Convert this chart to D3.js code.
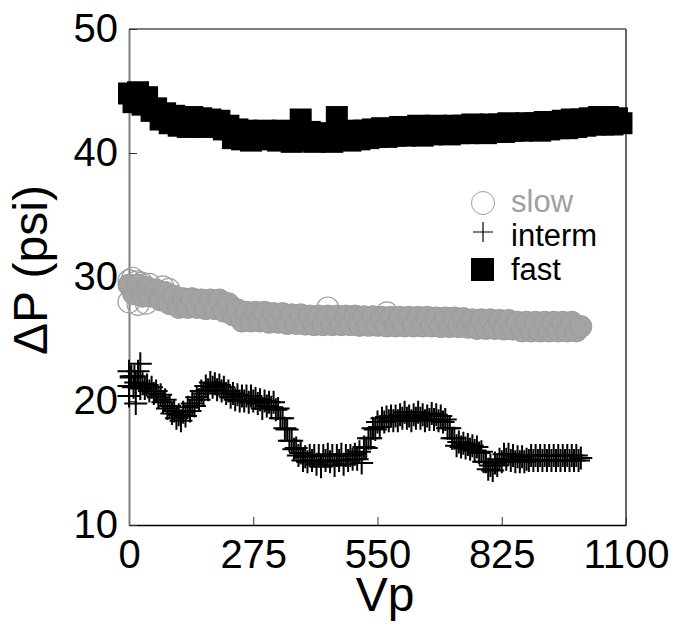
<!DOCTYPE html>
<html>
<head>
<meta charset="utf-8">
<script src="https://cdn.jsdelivr.net/npm/d3@7"></script>
<style>
  body { margin: 0; background: #fff; }
  text { font-family: "Liberation Sans", Arial, sans-serif; }
</style>
</head>
<body>
<div id="chart"></div>
<script>
// tick labels
var xTicks = [0, 275, 550, 825, 1100];
var yTicks = [10, 20, 30, 40, 50];

// fast: Vp = 0, 10, ... 1090
var fastVp = d3.range(0, 1100, 10);
var fastDP = [44.8, 44.1, 44.9, 43.9, 44.5, 43.4, 43.6, 42.7, 43.2, 42.4,
  43.0, 42.2, 42.8, 42.1, 42.9, 42.2, 42.8, 42.1, 42.7, 42.3,
  42.6, 41.9, 42.2, 41.2, 41.9, 41.1, 41.8, 41.0, 41.7, 41.2,
  41.8, 41.1, 41.7, 41.0, 41.8, 41.2, 40.9, 41.6, 42.7, 41.0,
  41.7, 40.9, 41.6, 41.0, 41.5, 40.9, 42.9, 41.3, 41.7, 41.0,
  41.8, 41.1, 41.8, 41.2, 41.9, 41.3, 42.0, 41.3, 41.9, 41.4,
  42.1, 41.4, 42.0, 41.5, 42.2, 41.4, 42.1, 41.5, 42.2, 41.6,
  42.1, 41.5, 42.2, 41.6, 42.2, 41.6, 42.3, 41.7, 42.2, 41.6,
  42.3, 41.7, 42.3, 41.7, 42.4, 41.8, 42.3, 41.8, 42.4, 41.9,
  42.4, 41.8, 42.5, 41.9, 42.5, 42.0, 42.6, 42.0, 42.7, 42.1,
  42.7, 42.2, 42.8, 42.3, 42.9, 42.3, 42.9, 42.3, 42.8, 42.4];

// slow: Vp = 0, 10, ... 1000
var slowVp = d3.range(0, 1010, 10);
var slowDP = [29.35, 28.65, 29.35, 28.45, 29.15, 28.45, 28.95, 28.15, 28.75, 27.85,
  28.45, 27.55, 28.25, 27.55, 28.25, 27.55, 28.15, 27.45, 28.15, 27.45,
  28.15, 27.25, 27.85, 26.95, 27.35, 26.45, 27.15, 26.45, 27.15, 26.45,
  27.15, 26.35, 27.05, 26.35, 27.05, 26.25, 26.95, 26.25, 26.95, 26.2,
  26.85, 26.15, 26.85, 26.15, 26.85, 26.15, 26.85, 26.15, 26.85, 26.15,
  26.85, 26.1, 26.8, 26.1, 26.8, 26.1, 26.75, 26.05, 26.75, 26.05,
  26.75, 26.05, 26.75, 26.05, 26.75, 26.05, 26.75, 26.05, 26.7, 26.0,
  26.7, 26.0, 26.7, 26.0, 26.65, 25.95, 26.55, 25.85, 26.55, 25.85,
  26.55, 25.85, 26.5, 25.8, 26.5, 25.8, 26.35, 25.65, 26.35, 25.65,
  26.35, 25.65, 26.35, 25.65, 26.35, 25.65, 26.35, 25.65, 26.35, 25.65,
  26.0];
// stray slow points lying outside the band
var slowStrayVp = [0, 8, 18, 28, 45, 75, 88, 0, 20, 38, 440, 571];
var slowStrayDP = [29.7, 29.9, 29.6, 29.5, 29.4, 29.2, 29.0, 28.0, 27.8, 27.9, 27.5, 27.1];

// interm: Vp = 0, 5, ... 1000
var intermVp = d3.range(0, 1005, 5);
var intermDP = [21.2, 22.0, 21.1, 21.5, 22.4, 21.0, 21.4, 21.0, 21.3, 20.8,
  21.1, 20.6, 20.8, 20.3, 20.5, 19.9, 20.1, 19.4, 19.6, 19.0,
  19.2, 18.6, 18.9, 18.4, 19.1, 18.8, 19.5, 19.2, 19.8, 19.6,
  20.3, 20.1, 20.8, 20.6, 21.2, 20.9, 21.5, 21.1, 21.4, 20.9,
  21.3, 20.8, 21.1, 20.6, 20.8, 20.3, 20.6, 20.1, 20.5, 20.0,
  20.4, 20.0, 20.4, 19.9, 20.4, 20.0, 20.2, 19.8, 20.1, 19.4,
  20.0, 19.6, 19.9, 19.5, 19.9, 19.3, 19.4, 18.6, 18.6, 17.8,
  17.7, 16.8, 16.8, 16.1, 16.2, 15.6, 15.8, 15.2, 15.5, 15.1,
  15.6, 15.2, 15.6, 14.9, 15.6, 14.7, 15.6, 15.2, 15.7, 15.1,
  15.6, 14.8, 15.6, 15.2, 15.7, 14.9, 15.6, 15.2, 15.6, 15.3,
  15.7, 15.3, 15.9, 15.0, 16.3, 16.2, 17.0, 17.0, 17.8, 17.7,
  18.3, 17.9, 18.6, 18.3, 18.7, 18.4, 18.8, 18.4, 18.8, 18.4,
  18.9, 18.6, 19.1, 18.6, 18.8, 18.4, 18.9, 18.6, 19.1, 18.6,
  18.9, 18.4, 18.8, 18.5, 19.0, 18.5, 18.9, 18.4, 18.8, 18.3,
  18.5, 17.8, 17.8, 17.0, 17.0, 16.4, 16.7, 16.3, 16.6, 16.2,
  16.5, 16.1, 16.4, 16.0, 16.3, 15.8, 15.9, 15.1, 15.1, 14.5,
  14.8, 14.4, 15.0, 14.8, 15.3, 15.1, 15.7, 15.3, 15.7, 15.2,
  15.6, 15.1, 15.5, 15.1, 15.5, 15.1, 15.3, 15.2, 15.6, 15.2,
  15.6, 15.2, 15.6, 15.2, 15.6, 15.2, 15.6, 15.2, 15.6, 15.2,
  15.6, 15.2, 15.6, 15.2, 15.6, 15.2, 15.6, 15.2, 15.6, 15.2,
  15.4];
var intermStrayVp = [0, 5, 0, 12, 15, 25];
var intermStrayDP = [22.4, 21.9, 20.4, 22.0, 19.8, 23.0];

var legendNames = ["slow", "interm", "fast"];

var W = 674, H = 631;
var margin = {top: 29, right: 48, bottom: 106, left: 129},
    width = W - margin.left - margin.right,
    height = H - margin.top - margin.bottom;

var svg = d3.select("#chart")
  .append("svg")
    .attr("width", W)
    .attr("height", H)
  .append("g")
    .attr("transform", "translate(" + margin.left + "," + margin.top + ")");

var x = d3.scaleLinear().domain([0, 1100]).range([0, width]);
var y = d3.scaleLinear().domain([10, 50]).range([height, 0]);

// frame
svg.append("line").attr("x1", 0).attr("x2", width).attr("y1", 0).attr("y2", 0)
  .attr("stroke", "#000").attr("stroke-width", 1);
svg.append("line").attr("x1", width).attr("x2", width).attr("y1", 0).attr("y2", height)
  .attr("stroke", "#333").attr("stroke-width", 1.5);

// axes
var xAxis = svg.append("g")
  .attr("transform", "translate(0," + height + ")")
  .call(d3.axisBottom(x).tickValues(xTicks).tickFormat(d3.format("d"))
    .tickSize(-8).tickSizeOuter(0).tickPadding(15));
var yAxis = svg.append("g")
  .call(d3.axisLeft(y).tickValues(yTicks).tickFormat(d3.format("d"))
    .tickSize(-8).tickSizeOuter(0).tickPadding(11));

xAxis.select(".domain").attr("stroke", "#000").attr("stroke-width", 1.5);
yAxis.select(".domain").attr("stroke", "#7f7f7f").attr("stroke-width", 2);
xAxis.selectAll(".tick line").attr("stroke", "#333");
yAxis.selectAll(".tick line").attr("stroke", "#333");
svg.selectAll(".tick text")
  .style("font-family", '"Liberation Sans", Arial, sans-serif')
  .style("font-size", "40px")
  .attr("fill", "#000");

// slow: dense grey circles
var slowData = slowVp.map(function(v, i) { return {vp: v, dp: slowDP[i]}; });
svg.append("g")
  .selectAll("circle")
  .data(slowData)
  .enter().append("circle")
    .attr("cx", function(d) { return x(d.vp); })
    .attr("cy", function(d) { return y(d.dp); })
    .attr("r", 11)
    .attr("fill", "#a3a3a3")
    .attr("stroke", "#9a9a9a")
    .attr("stroke-width", 1);

svg.append("g")
  .selectAll("circle")
  .data(slowStrayVp.map(function(v, i) { return {vp: v, dp: slowStrayDP[i]}; }))
  .enter().append("circle")
    .attr("cx", function(d) { return x(d.vp); })
    .attr("cy", function(d) { return y(d.dp); })
    .attr("r", 11)
    .attr("fill", "none")
    .attr("stroke", "#a0a0a0")
    .attr("stroke-width", 1.2);

// interm: plus markers
function plusPath(s) {
  var h = s / 2;
  return "M" + (-h) + ",0H" + h + "M0," + (-h) + "V" + h;
}
var intermData = intermVp.map(function(v, i) { return {vp: v, dp: intermDP[i]}; })
  .concat(intermStrayVp.map(function(v, i) { return {vp: v, dp: intermStrayDP[i]}; }));
svg.append("g")
  .selectAll("path")
  .data(intermData)
  .enter().append("path")
    .attr("transform", function(d) { return "translate(" + x(d.vp) + "," + y(d.dp) + ")"; })
    .attr("d", plusPath(23))
    .attr("fill", "none")
    .attr("stroke", "#000")
    .attr("stroke-width", 2);

// fast: filled squares
var fastData = fastVp.map(function(v, i) { return {vp: v, dp: fastDP[i]}; });
svg.append("g")
  .selectAll("rect")
  .data(fastData)
  .enter().append("rect")
    .attr("x", function(d) { return x(d.vp) - 11; })
    .attr("y", function(d) { return y(d.dp) - 11; })
    .attr("width", 22)
    .attr("height", 22)
    .attr("fill", "#000");

// legend
var lg = svg.append("g").attr("transform", "translate(" + (483 - margin.left) + "," + (203 - margin.top) + ")");
lg.append("circle").attr("cx", 0).attr("cy", 0).attr("r", 11.5)
  .attr("fill", "none").attr("stroke", "#a0a0a0").attr("stroke-width", 1);
lg.append("path").attr("transform", "translate(0,29)").attr("d", plusPath(20))
  .attr("fill", "none").attr("stroke", "#000").attr("stroke-width", 1.2);
lg.append("rect").attr("x", -12).attr("y", 55).attr("width", 23).attr("height", 23).attr("fill", "#000");
lg.selectAll("text.leg")
  .data(legendNames)
  .enter().append("text")
    .attr("class", "leg")
    .attr("x", 28)
    .attr("y", function(d, i) { return 9 + i * 34; })
    .attr("fill", function(d, i) { return i === 0 ? "#a0a0a0" : "#000"; })
    .style("font-size", "31px")
    .text(function(d) { return d; });

// axis titles
svg.append("text")
  .attr("x", 385 - margin.left)
  .attr("y", 611 - margin.top)
  .attr("text-anchor", "middle")
  .style("font-size", "48px")
  .text("Vp");
svg.append("text")
  .attr("transform", "translate(" + (47 - margin.left) + "," + (270 - margin.top) + ") rotate(-90)")
  .attr("text-anchor", "middle")
  .style("font-size", "48px")
  .text("ΔP (psi)");
</script>
</body>
</html>
